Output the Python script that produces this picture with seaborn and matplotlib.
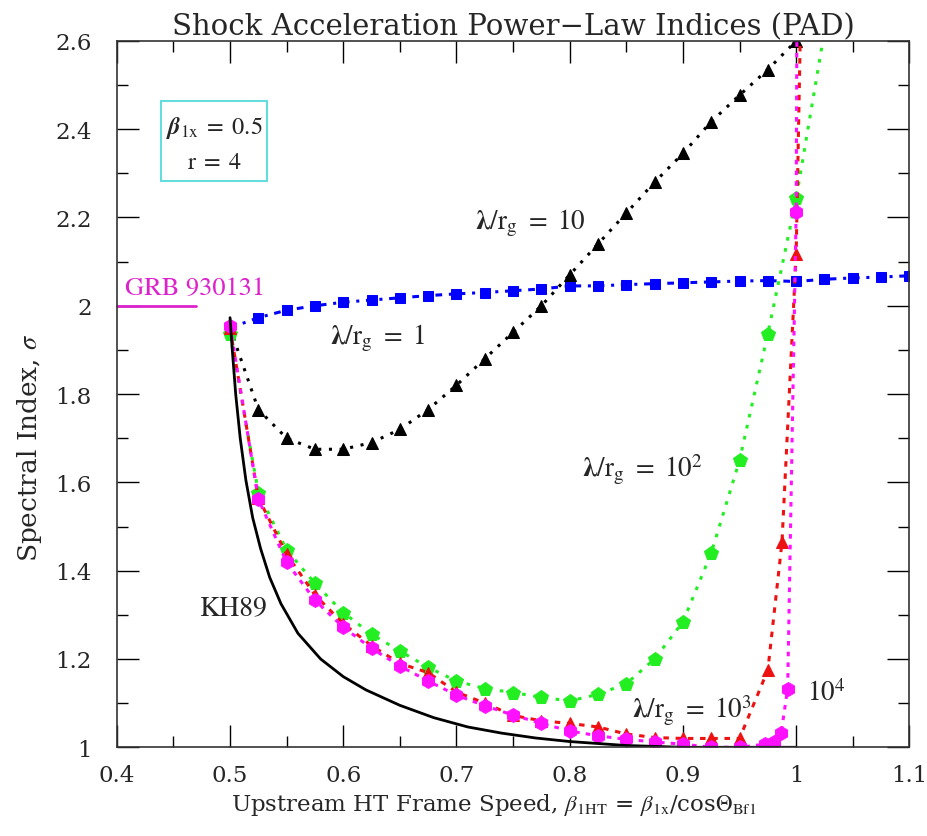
import matplotlib
matplotlib.use("Agg")
import matplotlib.pyplot as plt
import seaborn as sns
import pandas as pd
from matplotlib.ticker import MultipleLocator

# lambda/r_g = 1 (blue squares)
x_blue = [0.5, 0.525, 0.55, 0.575, 0.6, 0.625, 0.65, 0.675, 0.7, 0.725, 0.75, 0.775, 0.8,
          0.825, 0.85, 0.875, 0.9, 0.925, 0.95, 0.975, 1.0, 1.025, 1.05, 1.075, 1.1]
y_blue = [1.95, 1.973, 1.99, 2.0, 2.008, 2.013, 2.018, 2.023, 2.027, 2.03, 2.034, 2.038, 2.045,
          2.045, 2.048, 2.05, 2.052, 2.054, 2.056, 2.057, 2.055, 2.06, 2.063, 2.065, 2.068]

# lambda/r_g = 10 (black triangles)
x_black = [0.5, 0.525, 0.55, 0.575, 0.6, 0.625, 0.65, 0.675, 0.7, 0.725, 0.75, 0.775, 0.8,
           0.825, 0.85, 0.875, 0.9, 0.925, 0.95, 0.975, 1.0]
y_black = [1.95, 1.765, 1.70, 1.675, 1.675, 1.69, 1.72, 1.765, 1.82, 1.88, 1.94, 2.0, 2.07,
           2.14, 2.21, 2.28, 2.345, 2.417, 2.477, 2.535, 2.6]

# lambda/r_g = 10^2 (green pentagons)
x_green = [0.5, 0.525, 0.55, 0.575, 0.6, 0.625, 0.65, 0.675, 0.7, 0.725, 0.75, 0.775, 0.8,
           0.825, 0.85, 0.875, 0.9, 0.925, 0.95, 0.975, 1.0, 1.05]
y_green = [1.935, 1.577, 1.447, 1.371, 1.305, 1.256, 1.218, 1.181, 1.15, 1.133, 1.124, 1.113, 1.105,
           1.12, 1.144, 1.2, 1.284, 1.44, 1.65, 1.937, 2.243, 3.0]

# lambda/r_g = 10^3 (red triangles)
x_red = [0.5, 0.525, 0.55, 0.575, 0.6, 0.625, 0.65, 0.675, 0.7, 0.725, 0.75, 0.775, 0.8,
         0.825, 0.85, 0.875, 0.9, 0.925, 0.95, 0.975, 0.9875, 1.0, 1.025]
y_red = [1.95, 1.565, 1.437, 1.345, 1.28, 1.23, 1.19, 1.169, 1.125, 1.10, 1.072, 1.06, 1.054,
         1.046, 1.03, 1.022, 1.02, 1.02, 1.02, 1.175, 1.465, 2.118, 5.5]

# lambda/r_g = 10^4 (magenta hexagons)
x_mag = [0.5, 0.525, 0.55, 0.575, 0.6, 0.625, 0.65, 0.675, 0.7, 0.725, 0.75, 0.775, 0.8,
         0.825, 0.85, 0.875, 0.9, 0.925, 0.95, 0.9725, 0.98, 0.9867, 0.9925, 1.0, 1.002]
y_mag = [1.955, 1.562, 1.419, 1.333, 1.272, 1.224, 1.184, 1.15, 1.118, 1.094, 1.073, 1.054, 1.037,
         1.026, 1.018, 1.012, 1.007, 1.0, 1.0, 1.007, 1.012, 1.032, 1.133, 2.213, 3.5]

# KH89 analytic curve (solid black)
x_kh = [0.5, 0.502, 0.505, 0.509, 0.514, 0.52, 0.527, 0.535, 0.545, 0.56, 0.58, 0.6, 0.62,
        0.65, 0.68, 0.71, 0.74, 0.77, 0.8, 0.85, 0.9, 0.95, 1.0]
y_kh = [1.973, 1.90, 1.80, 1.70, 1.605, 1.52, 1.45, 1.385, 1.325, 1.258, 1.20, 1.16, 1.13,
        1.095, 1.067, 1.046, 1.032, 1.021, 1.013, 1.004, 1.0, 1.0, 1.0]

x_ticks = [0.4, 0.5, 0.6, 0.7, 0.8, 0.9, 1.0, 1.1]
x_ticklabels = ["0.4", "0.5", "0.6", "0.7", "0.8", "0.9", "1", "1.1"]
y_ticks = [1.0, 1.2, 1.4, 1.6, 1.8, 2.0, 2.2, 2.4, 2.6]
y_ticklabels = ["1", "1.2", "1.4", "1.6", "1.8", "2", "2.2", "2.4", "2.6"]

sns.set_theme(style="ticks")
plt.rcParams["font.family"] = ["DejaVu Serif"]
plt.rcParams["mathtext.fontset"] = "stix"

fig = plt.figure(figsize=(9.27, 8.37), dpi=100)
ax = fig.add_axes([0.126, 0.106, 0.855, 0.844])

series = [
    (x_blue, y_blue, "#0000ff", (0, (2.2, 2.2, 1.0, 2.2)), "s", 7.5),
    (x_black, y_black, "black", (0, (1, 2.5)), "^", 8),
    (x_green, y_green, "#22ee22", (0, (1.2, 2.5)), "p", 10),
    (x_red, y_red, "#ee1111", (0, (1.8, 2.2)), "^", 8),
    (x_mag, y_mag, "#ff11ff", (0, (1.5, 2.0)), "h", 10),
]
for xs, ys, col, ls, mk, ms in series:
    d = pd.DataFrame({"x": xs, "y": ys})
    sns.lineplot(data=d, x="x", y="y", ax=ax, sort=False, estimator=None,
                 color=col, linestyle=ls, linewidth=2.2, marker=mk, markersize=ms,
                 markeredgecolor=col, markerfacecolor=col)

kh = pd.DataFrame({"x": x_kh, "y": y_kh})
sns.lineplot(data=kh, x="x", y="y", ax=ax, sort=False, estimator=None,
             color="black", linewidth=2.0, solid_joinstyle="round")

ax.set_xlim(0.4, 1.1)
ax.set_ylim(1.0, 2.6)
ax.set_xticks(x_ticks)
ax.set_xticklabels(x_ticklabels)
ax.set_yticks(y_ticks)
ax.set_yticklabels(y_ticklabels)
ax.xaxis.set_minor_locator(MultipleLocator(0.05))
ax.yaxis.set_minor_locator(MultipleLocator(0.1))
ax.tick_params(which="both", direction="in", top=True, right=True, labelsize=16.5,
               width=1.0, color="black")
ax.tick_params(which="major", length=16)
ax.tick_params(which="minor", length=8)
ax.tick_params(axis="x", pad=12)
ax.tick_params(axis="y", pad=18)
for s in ax.spines.values():
    s.set_linewidth(1.2)
    s.set_color("#333333")

ax.set_title("Shock Acceleration Power\u2212Law Indices (PAD)", fontsize=21, pad=5)
ax.set_xlabel(r"Upstream HT Frame Speed, $\beta_{\rm 1HT}$ = $\beta_{\rm 1x}$/cos$\Theta_{\rm Bf1}$",
              fontsize=16.5, labelpad=4)
ax.xaxis.set_label_coords(0.475, -0.062)
ax.set_ylabel(r"Spectral Index, $\sigma$", fontsize=19)
ax.yaxis.set_label_coords(-0.092, 0.426)

# parameter box
ax.text(0.486, 2.405, r"$\boldsymbol{\beta}_{\rm 1x}\;=\;0.5$", ha="center", va="center",
        fontsize=17.5, family="STIXGeneral")
ax.text(0.486, 2.325, r"$\mathrm{r}\;=\;4$", ha="center", va="center", fontsize=17.5,
        family="STIXGeneral")
ax.add_patch(plt.Rectangle((0.439, 2.282), 0.094, 0.182, fill=False, edgecolor="#66dddd",
                           linewidth=1.5))

# GRB 930131 marker
ax.plot([0.4, 0.47], [2.0, 2.0], color="#dd22cc", linewidth=2, clip_on=False)
ax.text(0.407, 2.012, "GRB 930131", color="#dd22cc", fontsize=19, family="STIXGeneral",
        ha="left", va="bottom")

lbl = dict(fontsize=19.5, family="STIXGeneral", ha="left", va="center")
ax.text(0.588, 1.93, r"$\mathbf{\lambda}/\mathrm{r_g}\ =\ 1$", **lbl)
ax.text(0.716, 2.19, r"$\mathbf{\lambda}/\mathrm{r_g}\ =\ 10$", **lbl)
ax.text(0.811, 1.63, r"$\mathbf{\lambda}/\mathrm{r_g}\ =\ 10^2$", **lbl)
ax.text(0.855, 1.085, r"$\mathbf{\lambda}/\mathrm{r_g}\ =\ 10^3$", **lbl)
ax.text(1.01, 1.125, r"$10^4$", **lbl)
ax.text(0.473, 1.315, "KH89", **dict(lbl, fontsize=20))

fig.savefig("out.png", dpi=100)
